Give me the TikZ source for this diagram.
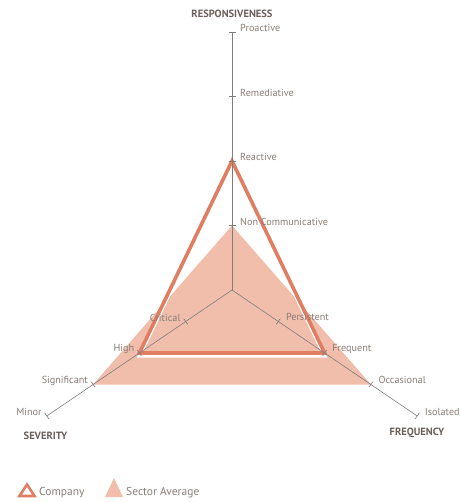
\documentclass[tikz,border=0pt]{standalone}
\usepackage{fontspec}
\setmainfont{PT Sans}
\usetikzlibrary{calc,positioning}
\definecolor{companycolor}{HTML}{E07E63}
\definecolor{sectorcolor}{HTML}{F1BEAB}
\definecolor{labelgray}{HTML}{8A7D76}
\definecolor{titlegray}{HTML}{6A605B}
\definecolor{axisgray}{HTML}{7D7D7D}
\newcommand{\RadarLabelFont}{\fontsize{10.2}{12}\selectfont}
\newcommand{\RadarTitleFont}{\fontsize{10.5}{12}\selectfont\bfseries}
\newcommand{\LegendFont}{\fontsize{11.5}{13}\selectfont}
\tikzset{
  radar axis/.style={draw=axisgray, line width=0.6pt},
  radar tick/.style={draw=axisgray, line width=0.6pt},
  level label/.style={font=\RadarLabelFont, text=labelgray, inner sep=0pt},
  legend label/.style={font=\LegendFont, text=labelgray, inner sep=0pt},
  axis title/.style={font=\RadarTitleFont, text=titlegray, inner sep=0pt},
  company line/.style={draw=companycolor, line width=3.6pt, line join=miter},
  company shadow/.style={draw=white, line width=3.4pt, line join=miter},
  sector fill/.style={fill=sectorcolor, draw=none}
}
\begin{document}
\begin{tikzpicture}[x=1pt,y=-1pt]
  \useasboundingbox (0,0) rectangle (460,502);
  \coordinate (radar-centre) at (232,290);
  \foreach \lvl in {1,...,4} {
    \coordinate (resp-\lvl) at ($(radar-centre)+(0,-64.5*\lvl)$);
    \coordinate (sev-\lvl) at ($(radar-centre)+(-46.3*\lvl,31.5*\lvl)$);
    \coordinate (freq-\lvl) at ($(radar-centre)+(46.3*\lvl,31.5*\lvl)$);
  }
  % sector average
  \path[sector fill] (resp-1) -- (sev-3) -- (freq-3) -- cycle;
  % company, with its white offset line
  \begin{scope}[transform canvas={yshift=-3pt}]
    \draw[company shadow] (resp-2) -- (sev-2) -- (freq-2) -- cycle;
  \end{scope}
  \draw[company line] (resp-2) -- (sev-2) -- (freq-2) -- cycle;
  % axes and ticks
  \draw[radar axis] (resp-4) -- (radar-centre);
  \draw[radar axis] (sev-4) -- (radar-centre);
  \draw[radar axis] (freq-4) -- (radar-centre);
  \foreach \lvl in {1,...,4} {
    \draw[radar tick] ($(resp-\lvl)+(-3.5,0)$) -- ($(resp-\lvl)+(3.5,0)$);
    \draw[radar tick] ($(sev-\lvl)+(2,2.9)$) -- ($(sev-\lvl)+(-2,-2.9)$);
    \draw[radar tick] ($(freq-\lvl)+(-2,2.9)$) -- ($(freq-\lvl)+(2,-2.9)$);
  }
  % level labels
  \foreach \lvl/\txt in {1/Non Communicative,2/Reactive,3/Remediative,4/Proactive}
    \node[level label, anchor=west] (resp-label-\lvl) at ($(resp-\lvl)+(8,-4)$) {\txt};
  \foreach \lvl/\txt in {1/Critical,2/High,3/Significant,4/Minor}
    \node[level label, anchor=east] (sev-label-\lvl) at ($(sev-\lvl)+(-5,-4)$) {\txt};
  \foreach \lvl/\txt in {1/Persistent,2/Frequent,3/Occasional,4/Isolated}
    \node[level label, anchor=west] (freq-label-\lvl) at ($(freq-\lvl)+(7.5,-4.5)$) {\txt};
  % axis titles
  \node[axis title] (resp-title) at (232,14) {RESPONSIVENESS};
  \node[axis title] (sev-title) at (45.5,436) {SEVERITY};
  \node[axis title] (freq-title) at (417,433) {FREQUENCY};
  % legend
  \draw[company line, line width=2.6pt] (19.5,496) -- (27,484.5) -- (34.5,496) -- cycle;
  \node[legend label, anchor=west] (legend-company) at (39,492.5) {Company};
  \path[sector fill] (105,497) -- (114,478) -- (123,497) -- cycle;
  \node[legend label, anchor=west] (legend-sector) at (126,492.5) {Sector Average};
\end{tikzpicture}
\end{document}
